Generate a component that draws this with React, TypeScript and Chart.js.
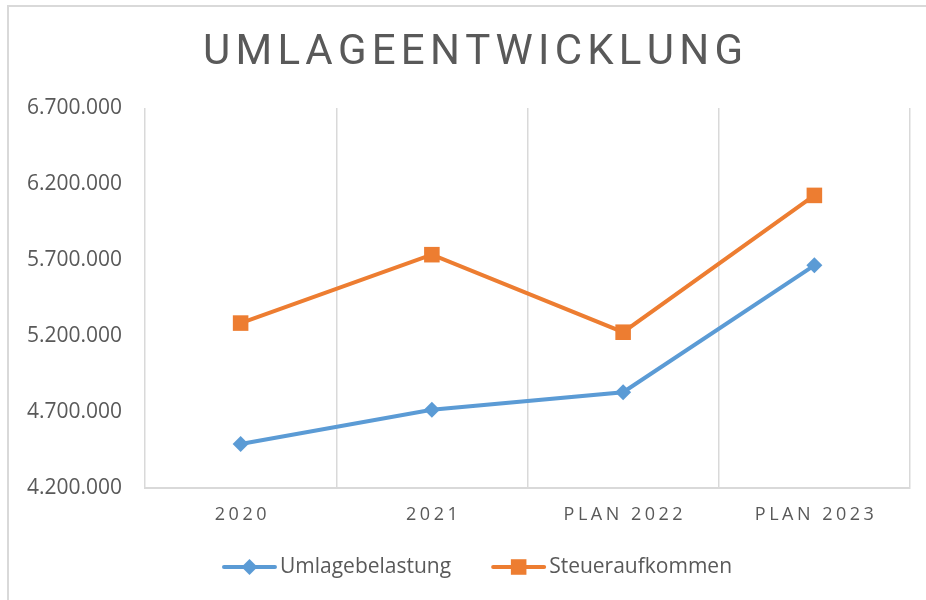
import React, { useEffect, useRef } from 'react';
import { Chart, registerables } from 'chart.js';

Chart.register(...registerables);

const chartTitle = 'UMLAGEENTWICKLUNG';
const categories = ['2020', '2021', 'PLAN 2022', 'PLAN 2023'];
const seriesNames = ['Umlagebelastung', 'Steueraufkommen'];
const umlage = [4490000, 4715000, 4830000, 5665000];
const steuer = [5285000, 5735000, 5225000, 6125000];
const yMin = 4200000;
const yMax = 6700000;
const yStep = 500000;

const TEXT = '#595959';
const GRID = '#d9d9d9';
const BLUE = '#5B9BD5';
const ORANGE = '#ED7D31';

function fmt(v: number): string {
  return String(Math.round(v)).replace(/\B(?=(\d{3})+(?!\d))/g, '.');
}

function spacedWidth(ctx: CanvasRenderingContext2D, text: string, spacing: number) {
  const chars = Array.from(text);
  const widths = chars.map((c) => ctx.measureText(c).width);
  return { chars, widths, total: widths.reduce((a, b) => a + b, 0) + spacing * (chars.length - 1) };
}

function drawSpaced(ctx: CanvasRenderingContext2D, text: string, cx: number, y: number, spacing: number) {
  const { chars, widths, total } = spacedWidth(ctx, text, spacing);
  let x = cx - total / 2;
  ctx.textAlign = 'left';
  chars.forEach((c, i) => {
    ctx.fillText(c, x, y);
    x += widths[i] + spacing;
  });
}

function drawMarker(ctx: CanvasRenderingContext2D, style: string, x: number, y: number, r: number, color: string) {
  ctx.fillStyle = color;
  ctx.beginPath();
  if (style === 'rectRot') {
    ctx.moveTo(x, y - r);
    ctx.lineTo(x + r, y);
    ctx.lineTo(x, y + r);
    ctx.lineTo(x - r, y);
    ctx.closePath();
  } else {
    const s = r * Math.SQRT1_2;
    ctx.rect(x - s, y - s, 2 * s, 2 * s);
  }
  ctx.fill();
}

const decorPlugin = {
  id: 'decor',
  beforeDraw(chart: any) {
    const ctx: CanvasRenderingContext2D = chart.ctx;
    ctx.save();
    ctx.fillStyle = '#ffffff';
    ctx.fillRect(0, 0, chart.width, chart.height);
    ctx.fillStyle = GRID;
    ctx.fillRect(7, 5, 2, chart.height - 5);
    ctx.fillRect(7, 5, chart.width - 7, 2);
    ctx.restore();
  },
  afterDraw(chart: any) {
    const ctx: CanvasRenderingContext2D = chart.ctx;
    ctx.save();
    ctx.fillStyle = TEXT;

    // Title
    ctx.font = '400 42px Roboto, "Liberation Sans", sans-serif';
    ctx.textBaseline = 'alphabetic';
    const tw = spacedWidth(ctx, chartTitle, 0);
    const n = Array.from(chartTitle).length;
    const tSpacing = Math.max(0, (540 - tw.total) / (n - 1));
    drawSpaced(ctx, chartTitle, 473, 64, tSpacing);

    // X category labels
    const xs = chart.scales.x;
    ctx.font = '18px "Open Sans", sans-serif';
    ctx.textBaseline = 'middle';
    categories.forEach((c, i) => drawSpaced(ctx, c, xs.getPixelForTick(i), 515, 3.5));

    // Legend
    ctx.font = '21px "Open Sans", sans-serif';
    const lineLen = 55;
    const gapText = 3;
    const gapItem = 40;
    const items = chart.data.datasets.map((ds: any) => ({
      label: ds.label as string,
      color: ds.borderColor as string,
      style: ds.pointStyle as string,
      w: ctx.measureText(ds.label).width,
    }));
    const total = items.reduce((a: number, it: any) => a + lineLen + gapText + it.w, 0) + gapItem * (items.length - 1);
    let x = 477 - total / 2;
    const ly = 567;
    items.forEach((it: any) => {
      ctx.strokeStyle = it.color;
      ctx.lineWidth = 4;
      ctx.lineCap = 'round';
      ctx.beginPath();
      ctx.moveTo(x + 2, ly);
      ctx.lineTo(x + lineLen - 2, ly);
      ctx.stroke();
      drawMarker(ctx, it.style, x + lineLen / 2, ly, it.style === 'rect' ? 11 : 8, it.color);
      ctx.fillStyle = TEXT;
      ctx.textAlign = 'left';
      ctx.textBaseline = 'middle';
      ctx.fillText(it.label, x + lineLen + gapText, ly);
      x += lineLen + gapText + it.w + gapItem;
    });
    ctx.restore();
  },
};

export default function App() {
  const canvasRef = useRef<HTMLCanvasElement | null>(null);

  useEffect(() => {
    if (!canvasRef.current) return;
    const chart = new Chart(canvasRef.current, {
      type: 'line',
      data: {
        labels: categories,
        datasets: [
          {
            label: seriesNames[0],
            data: umlage,
            borderColor: BLUE,
            backgroundColor: BLUE,
            borderWidth: 4,
            pointStyle: 'rectRot',
            pointRadius: 8,
            pointBorderWidth: 0,
            pointBackgroundColor: BLUE,
            tension: 0,
          },
          {
            label: seriesNames[1],
            data: steuer,
            borderColor: ORANGE,
            backgroundColor: ORANGE,
            borderWidth: 4,
            pointStyle: 'rect',
            pointRadius: 11,
            pointBorderWidth: 0,
            pointBackgroundColor: ORANGE,
            tension: 0,
          },
        ],
      },
      options: {
        responsive: false,
        animation: false,
        devicePixelRatio: 1,
        layout: { padding: { left: 0, right: 16, top: 108, bottom: 0 } },
        plugins: {
          legend: { display: false },
          title: { display: false },
          tooltip: { enabled: false },
        },
        scales: {
          x: {
            type: 'category',
            offset: true,
            grid: { display: true, offset: true, color: GRID, lineWidth: 1.5, drawTicks: false },
            border: { display: true, color: GRID, width: 2 },
            ticks: { display: false },
            afterFit: (scale: any) => {
              scale.height = 112;
            },
          },
          y: {
            min: yMin,
            max: yMax,
            grid: { display: false, drawTicks: false },
            border: { display: false },
            ticks: {
              stepSize: yStep,
              padding: 23,
              color: TEXT,
              font: { family: '"Open Sans", sans-serif', size: 21 },
              callback: (v: any) => fmt(Number(v)),
            },
            afterFit: (scale: any) => {
              scale.width = 145;
            },
          },
        },
      },
      plugins: [decorPlugin],
    });
    return () => chart.destroy();
  }, []);

  return (
    <div style={{ position: 'absolute', left: 0, top: 0, width: 926, height: 600, background: '#fff' }}>
      <canvas ref={canvasRef} width={926} height={600} style={{ display: 'block', width: 926, height: 600 }} />
    </div>
  );
}
